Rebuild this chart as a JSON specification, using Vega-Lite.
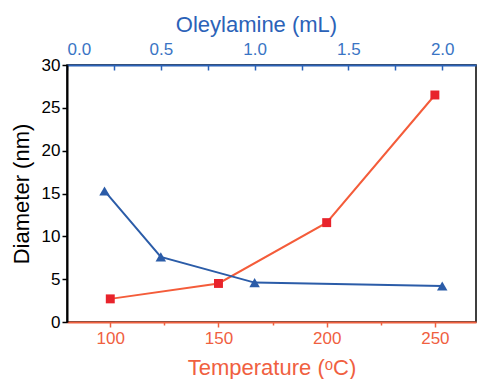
{
  "$schema": "https://vega.github.io/schema/vega-lite/v6.json",
  "autosize": "none",
  "width": 409,
  "height": 257,
  "padding": {"left": 67, "top": 65, "right": 3, "bottom": 57},
  "background": "white",
  "config": {
    "font": "Liberation Sans",
    "view": {"stroke": "black", "strokeWidth": 1.5}
  },
  "datasets": {
    "temp": [
      {"temperature": 100, "diameter": 2.7},
      {"temperature": 150, "diameter": 4.5},
      {"temperature": 200, "diameter": 11.6},
      {"temperature": 250, "diameter": 26.5}
    ],
    "oley": [
      {"oleylamine": 0.2, "diameter": 15.3},
      {"oleylamine": 0.5, "diameter": 7.6},
      {"oleylamine": 1.0, "diameter": 4.6},
      {"oleylamine": 2.0, "diameter": 4.2}
    ]
  },
  "layer": [
    {
      "data": {"name": "temp"},
      "encoding": {
        "x": {
          "field": "temperature", "type": "quantitative",
          "scale": {"domain": [80, 269], "nice": false, "zero": false},
          "axis": {
            "orient": "bottom",
            "title": "Temperature (ᵒC)",
            "values": [100, 125, 150, 175, 200, 225, 250],
            "labelExpr": "datum.value % 50 === 0 ? datum.label : ''",
            "domainColor": "#f0603f", "domainWidth": 2,
            "tickColor": "#f0603f", "tickWidth": 1.5,
            "tickSize": {"condition": {"test": "datum.value % 50 === 0", "value": 5}, "value": 3},
            "labelColor": "#f0603f", "labelFontSize": 17, "labelPadding": 3,
            "titleColor": "#f0603f", "titleFontSize": 22, "titleFontWeight": "normal", "titlePadding": 11,
            "grid": false
          }
        },
        "y": {
          "field": "diameter", "type": "quantitative",
          "scale": {"domain": [0, 30], "nice": false},
          "axis": {
            "title": "Diameter (nm)",
            "values": [0, 2.5, 5, 7.5, 10, 12.5, 15, 17.5, 20, 22.5, 25, 27.5, 30],
            "labelExpr": "datum.value % 5 === 0 ? datum.label : ''",
            "domainColor": "black", "domainWidth": 2,
            "tickColor": "black", "tickWidth": 1.5,
            "tickSize": {"condition": {"test": "datum.value % 5 === 0", "value": 5}, "value": 3},
            "labelColor": "black", "labelFontSize": 17, "labelPadding": 2,
            "titleColor": "black", "titleFontSize": 22, "titleFontWeight": "normal", "titlePadding": 8,
            "grid": false
          }
        }
      },
      "layer": [
        {"mark": {"type": "line", "color": "#f45c3a", "strokeWidth": 2}},
        {"mark": {"type": "point", "shape": "square", "filled": true, "color": "#e8232b", "size": 80, "opacity": 1}}
      ]
    },
    {
      "data": {"name": "oley"},
      "encoding": {
        "x": {
          "field": "oleylamine", "type": "quantitative",
          "scale": {"domain": [0, 2.18], "nice": false, "zero": false},
          "axis": {
            "orient": "top",
            "title": "Oleylamine (mL)",
            "titleX": 189,
            "values": [0, 0.25, 0.5, 0.75, 1.0, 1.25, 1.5, 1.75, 2.0],
            "format": ".1f",
            "labelExpr": "datum.value * 4 % 2 === 0 ? datum.label : ''",
            "domainColor": "#2b62b8", "domainWidth": 2,
            "tickColor": "#2b62b8", "tickWidth": 1.5,
            "tickSize": -5,
            "labelColor": "#3a74c4", "labelFontSize": 17, "labelPadding": 12,
            "titleColor": "#2b62b8", "titleFontSize": 22, "titleFontWeight": "normal", "titlePadding": 4,
            "grid": false
          }
        },
        "y": {"field": "diameter", "type": "quantitative"}
      },
      "layer": [
        {"mark": {"type": "line", "color": "#2b5ca8", "strokeWidth": 2}},
        {"mark": {"type": "point", "shape": "triangle-up", "filled": true, "color": "#2b5ca8", "size": 110, "opacity": 1}}
      ]
    }
  ],
  "resolve": {"scale": {"x": "independent"}, "axis": {"x": "independent"}}
}
